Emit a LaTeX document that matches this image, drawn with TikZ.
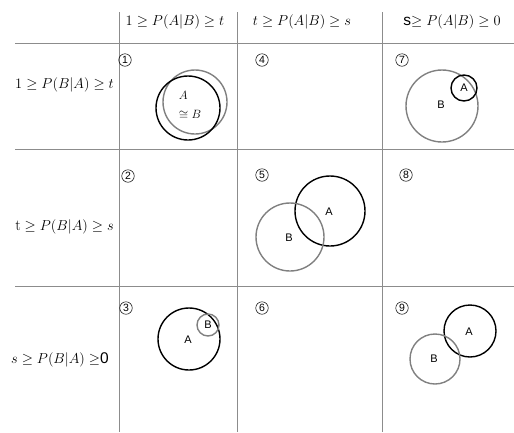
\documentclass[tikz,border=0pt]{standalone}
\usepackage{fontspec}
\newfontfamily\venfont{Liberation Sans}
\usetikzlibrary{positioning}

\begin{document}
\begin{tikzpicture}[
    x=1pt,
    y=-1pt,
    gridline/.style={draw=gray!90, line width=0.9pt},
    setA/.style={draw=black, line width=1.4pt},
    setB/.style={draw=gray, line width=1.4pt},
    head/.style={font=\fontsize{15.5}{18}\selectfont, inner sep=0pt},
    num/.style={circle, draw, line width=0.5pt, minimum size=12.5pt, inner sep=0pt,
                font=\venfont\fontsize{10.5}{12}\selectfont},
    lab/.style={font=\venfont\fontsize{11}{13}\selectfont, inner sep=0pt}
]
\useasboundingbox (0,0) rectangle (514,432);

%---------------- Grid ----------------
\foreach \y in {43, 149, 286} {
    \draw[gridline] (15,\y) -- (514,\y);
}
\foreach \x in {119, 237, 382} {
    \draw[gridline] (\x,12) -- (\x,432);
}

%---------------- Headers ----------------
\node[head] (C1) at (175,22) {$1 \geq P(A|B) \geq t$};
\node[head] (C2) at (302,22) {$t \geq P(A|B) \geq s$};
\node[head] (C3) at (452,22) {{\venfont s}$\geq P(A|B) \geq 0$};

\node[head, anchor=east] (R1) at (114,85) {$1 \geq P(B|A) \geq t$};
\node[head, anchor=east] (R2) at (114,227) {$\mathrm{t} \geq P(B|A) \geq s$};
\node[head, anchor=east] (R3) at (109,360) {$s \geq P(B|A) \geq${\venfont 0}};

%---------------- Cell numbers ----------------
\foreach \name/\x/\y/\lab in {N1/125/60/1, N2/128/176/2, N3/126/308/3,
                             N4/262/60/4, N5/262/175/5, N6/262/308/6,
                             N7/402/60/7, N8/406/175/8, N9/402/308/9} {
    \node[num] (\name) at (\x,\y) {\lab};
}

%---------------- Cell 1: A ~ B ----------------
\draw[setB] (195,102) circle (32);
\draw[setA] (188,108) circle (32);
\node[head, font=\fontsize{13}{19.5}\selectfont, align=left] (AB1) at (190,105) {$A$\\$\cong B$};

%---------------- Cell 3: B inside A ----------------
\draw[setA] (189,339) circle (31);
\draw[setB] (208,325) circle (11);
\node[lab] (A3) at (188,340) {A};
\node[lab] (B3) at (208,325) {B};

%---------------- Cell 5: overlap ----------------
\draw[setA] (330,211) circle (35);
\draw[setB] (290,237) circle (34);
\node[lab] (A5) at (329,212) {A};
\node[lab] (B5) at (289,238) {B};

%---------------- Cell 7: A inside B ----------------
\draw[setB] (442,106) circle (36);
\draw[setA] (464,88) circle (13);
\node[lab] (A7) at (464,88) {A};
\node[lab] (B7) at (441,105) {B};

%---------------- Cell 9: small overlap ----------------
\draw[setA] (470,331) circle (26);
\draw[setB] (435,359) circle (25);
\node[lab] (A9) at (469,332) {A};
\node[lab] (B9) at (434,359) {B};
\end{tikzpicture}
\end{document}
